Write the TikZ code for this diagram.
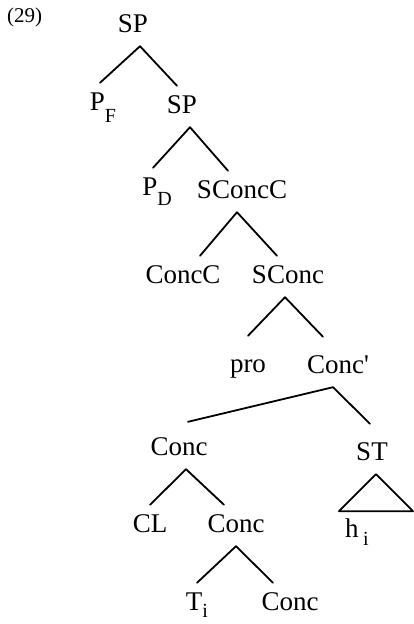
\documentclass[tikz,border=0pt]{standalone}
\usepackage{fontspec}
\setmainfont{Liberation Serif}
\usetikzlibrary{positioning}
\newcommand{\lowsub}[2]{\raisebox{-#1}{\fontsize{20}{22}\selectfont #2}}

\begin{document}
\begin{tikzpicture}[x=1pt,y=-1pt,
    lab/.style={anchor=base,font=\fontsize{27}{30}\selectfont,
      text height=18pt,text depth=5pt,inner xsep=0pt,inner ysep=9pt},
    br/.style={line width=1.8pt,line cap=round}]
  \useasboundingbox (0,0) rectangle (413,624);
  % numero del ejemplo
  \node[anchor=base west,inner sep=0pt,font=\fontsize{21}{24}\selectfont] (num) at (7,22) {(29)};
  % nudos
  \node[lab] (sp) at (133,32) {SP};
  \node[lab] (pf) at (103,110) {P\lowsub{12pt}{F}};
  \node[lab] (sp2) at (182,113) {SP};
  \node[lab] (pd) at (157,195) {P\lowsub{10pt}{D}};
  \node[lab] (sconcc) at (242,198) {SConcC};
  \node[lab] (concc) at (183,283) {ConcC};
  \node[lab] (sconc) at (288,283) {SConc};
  \node[lab] (pro) at (248,372) {pro};
  \node[lab] (concp) at (338,373) {Conc\textquotesingle};
  \node[lab] (conc) at (179,455) {Conc};
  \node[lab] (st) at (372,460) {ST};
  \node[lab] (cl) at (150,532) {CL};
  \node[lab] (conc2) at (236,532) {Conc};
  \node[lab] (hi) at (357,537) {h\,\lowsub{8pt}{i}};
  \node[lab] (ti) at (197,610) {T\lowsub{7pt}{i}};
  \node[lab] (conc3) at (290,610) {Conc};
  % ramas
  \draw[br] ([xshift=7pt]sp.south) -- ([xshift=-3pt]pf.north);
  \draw[br] ([xshift=7pt]sp.south) -- ([xshift=-5pt]sp2.north);
  \draw[br] ([xshift=8pt]sp2.south) -- ([xshift=-4pt]pd.north);
  \draw[br] ([xshift=8pt]sp2.south) -- ([xshift=-14pt]sconcc.north);
  \draw[br] ([xshift=-5pt]sconcc.south) -- ([xshift=17pt]concc.north);
  \draw[br] ([xshift=-5pt]sconcc.south) -- ([xshift=-11pt]sconc.north);
  \draw[br] ([xshift=-3pt]sconc.south) -- ([yshift=9pt]pro.north);
  \draw[br] ([xshift=-3pt]sconc.south) -- ([xshift=-15pt,yshift=9pt]concp.north);
  \draw[br] ([xshift=-5pt]concp.south) -- ([xshift=9pt,yshift=6pt]conc.north);
  \draw[br] ([xshift=-5pt]concp.south) -- ([xshift=-2pt,yshift=9pt]st.north);
  \draw[br] ([xshift=7pt]conc.south) -- (cl.north);
  \draw[br] ([xshift=7pt]conc.south) -- ([xshift=-12pt]conc2.north);
  \draw[br] (conc2.south) -- (ti.north);
  \draw[br] (conc2.south) -- ([xshift=-17pt]conc3.north);
  % triangulo
  \draw[br,line join=round] ([xshift=4pt]st.south) -- ++(-37,37) -- ++(74,0) -- cycle;
\end{tikzpicture}
\end{document}
